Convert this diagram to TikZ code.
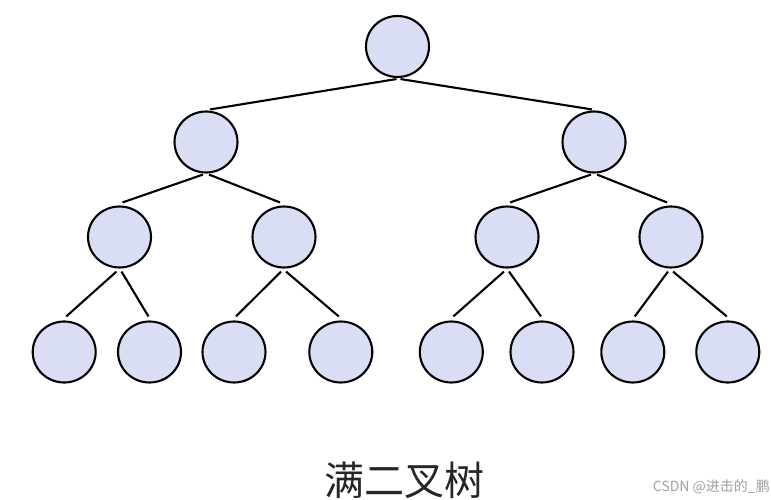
\documentclass[tikz,border=0pt]{standalone}
\usepackage{fontspec}
\newfontfamily\cjk{Noto Sans CJK SC}
\usetikzlibrary{shapes.geometric,calc}
\definecolor{nodefill}{RGB}{217,222,244}
\definecolor{wm}{RGB}{160,160,160}
\tikzset{
  tn/.style={ellipse,draw=black,fill=nodefill,line width=2.1pt,minimum width=63pt,minimum height=61pt,inner sep=0pt},
  edge/.style={line width=2.1pt,black}
}
\begin{document}
\begin{tikzpicture}[x=1pt,y=-1pt]
\useasboundingbox[fill=white] (0,0) rectangle (771,500);
% nodes
\node[tn] (r) at (397.5,46.5) {};
\node[tn] (a) at (206,142) {};
\node[tn] (b) at (594,142) {};
\node[tn] (aa) at (119.5,237) {};
\node[tn] (ab) at (284,237) {};
\node[tn] (ba) at (507,237) {};
\node[tn] (bb) at (671,237) {};
\node[tn] (aaa) at (64.2,352) {};
\node[tn] (aab) at (149.5,352) {};
\node[tn] (aba) at (234,352) {};
\node[tn] (abb) at (340.8,352) {};
\node[tn] (baa) at (451.3,352) {};
\node[tn] (bab) at (542,352) {};
\node[tn] (bba) at (632.8,352) {};
\node[tn] (bbb) at (727.8,352) {};
% edges
\draw[edge] ($(r.south)+(-1,1)$) -- ($(a.north)+(4,-1)$);
\draw[edge] ($(r.south)+(3,1)$) -- ($(b.north)+(-2,-1)$);
\draw[edge] ($(a.south)+(-3,1)$) -- ($(aa.north)+(3,-3)$);
\draw[edge] ($(a.south)+(3,1)$) -- ($(ab.north)+(-4,-3)$);
\draw[edge] ($(b.south)+(-3,1)$) -- ($(ba.north)+(3,-3)$);
\draw[edge] ($(b.south)+(3,1)$) -- ($(bb.north)+(-4,-3)$);
\draw[edge] ($(aa.south)+(-3,3)$) -- ($(aaa.north)+(2,-4)$);
\draw[edge] ($(aa.south)+(2,3)$) -- ($(aab.north)+(-1,-4)$);
\draw[edge] ($(ab.south)+(-3,3)$) -- ($(aba.north)+(2,-4)$);
\draw[edge] ($(ab.south)+(2,3)$) -- ($(abb.north)+(-2,-4)$);
\draw[edge] ($(ba.south)+(-3,3)$) -- ($(baa.north)+(2,-4)$);
\draw[edge] ($(ba.south)+(2,3)$) -- ($(bab.north)+(-1,-4)$);
\draw[edge] ($(bb.south)+(-3,3)$) -- ($(bba.north)+(2,-4)$);
\draw[edge] ($(bb.south)+(2,3)$) -- ($(bbb.north)+(-1,-4)$);
% labels
\node[font=\cjk\fontsize{40}{42}\selectfont, text=black!85, inner sep=0pt] (title) at (404,480) {满二叉树};
\node[font=\cjk\fontsize{14}{16}\selectfont, text=wm, inner sep=0pt, anchor=east] (mark) at (770,487) {CSDN @进击的\_鹏};
\end{tikzpicture}
\end{document}
